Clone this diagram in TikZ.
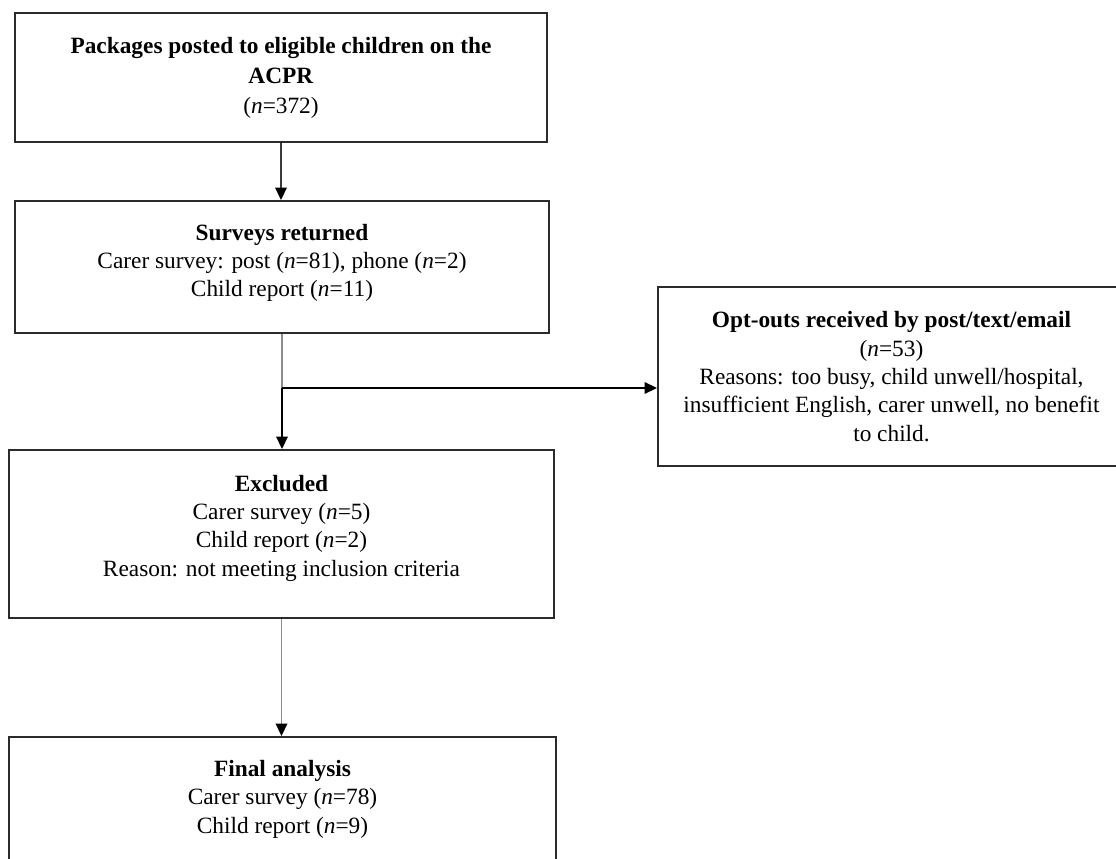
\documentclass[tikz,border=0pt]{standalone}
\usepackage{fontspec}
\setmainfont{Liberation Serif}
\usepackage{tikz}
\usetikzlibrary{arrows.meta,positioning}
\definecolor{boxline}{HTML}{2B2B2B}
\definecolor{linkdark}{HTML}{3A3A3A}
\definecolor{linkgrey}{HTML}{8C8C8C}
\tikzset{
  flowbox/.style={
    rectangle, draw=boxline, line width=1.2pt,
    align=center, inner sep=3pt,
    font=\fontsize{14}{17}\selectfont
  },
  flowarrow/.style={
    -{Triangle[length=7.5pt,width=7pt,black]}, line width=0.9pt, color=#1
  },
  flowarrow/.default=black,
  flowline/.style={
    line width=0.9pt, color=#1
  },
  flowline/.default=linkgrey,
}
\newcommand{\nn}[1]{(\textit{n}=#1)}
\newcommand{\lift}[1]{\vrule width 0pt height 0pt depth #1}

\begin{document}
\begin{tikzpicture}[x=0.6pt, y=-0.6pt]
  \useasboundingbox (0,0) rectangle (1116,859);

  % ── Main column ────────────────
  \node[flowbox, font=\fontsize{14}{18}\selectfont,
    minimum width=532*0.6pt, minimum height=129*0.6pt]
    (pkg) at (281,77.5)
    {\textbf{Packages posted to eligible children on the}\\
     \textbf{ACPR}\\ \nn{372}};
  \node[flowbox, minimum width=534*0.6pt, minimum height=132*0.6pt]
    (srv) at (282,267)
    {\textbf{Surveys returned}\\
     Carer survey: post \nn{81}, phone \nn{2}\\
     Child report \nn{11}\lift{8pt}};
  \node[flowbox, minimum width=545*0.6pt, minimum height=168*0.6pt]
    (excl) at (281.5,534)
    {\textbf{Excluded}\\ Carer survey \nn{5}\\ Child report \nn{2}\\
     Reason: not meeting inclusion criteria\lift{10pt}};
  \node[flowbox, minimum width=547*0.6pt, minimum height=143*0.6pt]
    (final) at (282.5,808.5)
    {\textbf{Final analysis}\\ Carer survey \nn{78}\\
     Child report \nn{9}\lift{14pt}};

  % ── Opt-outs ──────────
  \node[flowbox, minimum width=467*0.6pt, minimum height=179*0.6pt]
    (opt) at (891.5,376.5)
    {\textbf{Opt-outs received by post/text/email}\\ \nn{53}\\
     Reasons: too busy, child unwell/hospital,\\
     insufficient English, carer unwell, no benefit\\
     to child.};

  % ── Connectors ──────────
  \coordinate (br) at (282,388);
  \draw[flowarrow=linkdark] (pkg.south) -- (pkg.south |- srv.north);
  \draw[flowline] (srv.south) -- (br);
  \draw[flowarrow] (br) -- (br |- excl.north);
  \draw[flowarrow] (br) -- (br -| opt.west);
  \draw[flowarrow=linkgrey] (excl.south) -- (excl.south |- final.north);
\end{tikzpicture}
\end{document}
